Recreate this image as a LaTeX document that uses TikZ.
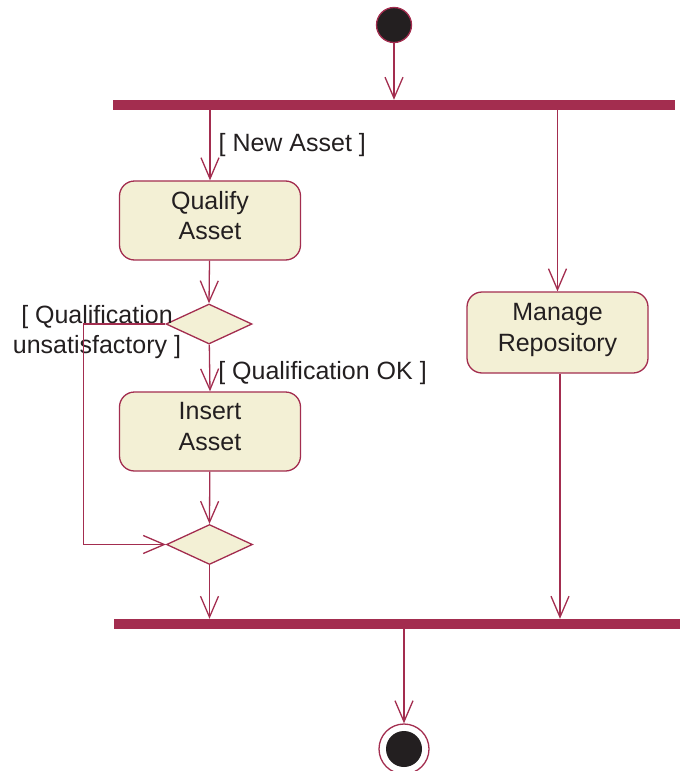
\documentclass[tikz,border=0pt]{standalone}
\usepackage{fontspec}
\setmainfont{Liberation Sans}
\usetikzlibrary{shapes.geometric,arrows.meta,calc}
\definecolor{umlred}{RGB}{163,45,79}
\definecolor{umlfill}{RGB}{243,240,213}
\definecolor{umltext}{RGB}{35,31,32}
\newcommand{\linecolor}{umlred}
\newcommand{\thickness}{1.3pt}
\newcommand{\labelfont}{\fontsize{25}{30.5}\selectfont}

\tikzset{
  activity/.style={draw=\linecolor, fill=umlfill, rounded corners=15pt, line width=\thickness,
    minimum width=181pt, minimum height=79pt, align=center, text=umltext, font=\labelfont,
    text depth=10pt},
  decision/.style={diamond, draw=\linecolor, fill=umlfill, line width=\thickness,
    minimum width=86pt, minimum height=40pt, inner sep=0pt},
  syncbar/.style={fill=\linecolor, inner sep=0pt, minimum height=10pt},
  flow/.style={draw=\linecolor, line width=\thickness, -{Straight Barb[length=21pt,width=18pt]}},
  guard/.style={text=umltext, font=\labelfont, align=center, inner xsep=8pt}
}

\begin{document}
\begin{tikzpicture}[x=1pt, y=-1pt]
\useasboundingbox (0,0) rectangle (680,771);
%start
\node[circle, draw=\linecolor, fill=umltext, line width=\thickness, minimum size=35pt, inner sep=0pt] (start) at (394, 25) {};
\node[syncbar, minimum width=562pt] (fork) at (394, 105) {};
%left branch
\node[activity] (qualify) at (210, 220.5) {Qualify\\Asset};
\node[decision] (check) at (209, 324) {};
\node[activity] (insert) at (210, 431.5) {Insert\\Asset};
\node[decision] (merge) at (209.5, 544.5) {};
%right branch
\node[activity, minimum height=81pt] (manage) at (557.5, 332.5) {Manage\\Repository};
%join and end
\node[syncbar, minimum width=566pt] (join) at (397, 624) {};
\node[circle, draw=\linecolor, fill=white, line width=\thickness, minimum size=50pt, inner sep=0pt] (stopring) at (404, 749) {};
\node[circle, fill=umltext, minimum size=36pt, inner sep=0pt] (stopdot) at (404, 749) {};
\node[guard] (unsat) at (97, 332) {[ Qualification\\unsatisfactory ]};

\draw[flow] (start) -- (start |- fork.north);
\draw[flow] (fork.south -| qualify.north) -- node[guard, right] (newasset) {[ New Asset ]} (qualify.north);
\draw[flow] (qualify) -- (check.north);
\draw[flow] (check) -- node[guard, right, yshift=-5pt] (qualok) {[ Qualification OK ]} (insert.north);
\draw[flow] (insert) -- (merge.north);
\draw[flow] (check.west) -- ++(-82, 0) |- (merge.west);
\draw[flow] (merge) -- (merge.south |- join.north);
\draw[flow] (fork.south -| manage.north) -- (manage.north);
\draw[flow] ([xshift=2.5pt]manage.south) -- ([xshift=2.5pt]manage.south |- join.north);
\draw[flow] (join.south -| stopring.north) -- (stopring.north);
\end{tikzpicture}
\end{document}
